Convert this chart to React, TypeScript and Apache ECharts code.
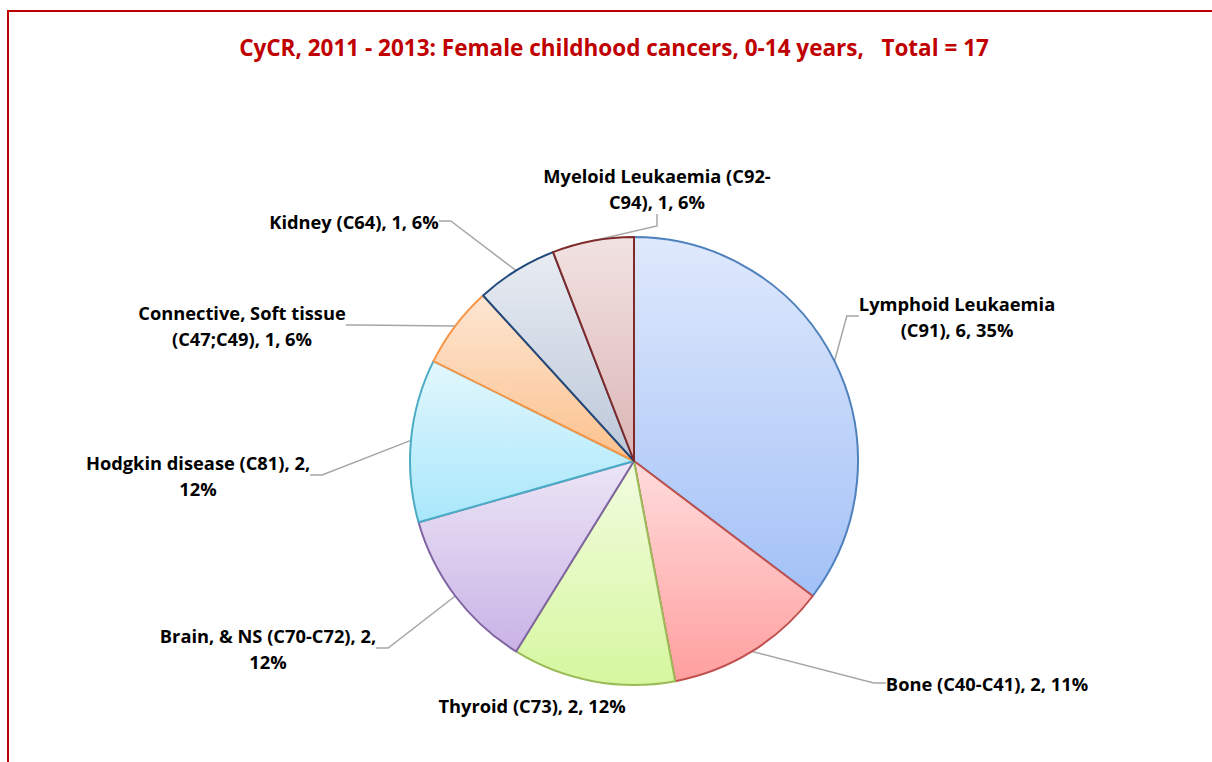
import { useEffect, useRef } from "react";
import * as echarts from "echarts";

const TITLE = "CyCR, 2011 - 2013: Female childhood cancers, 0-14 years,   Total = 17";
const categories = [
  "Lymphoid Leukaemia\n(C91)",
  "Bone (C40-C41)",
  "Thyroid (C73)",
  "Brain, & NS (C70-C72)",
  "Hodgkin disease (C81)",
  "Connective, Soft tissue\n(C47;C49)",
  "Kidney (C64)",
  "Myeloid Leukaemia (C92-\nC94)",
];
const counts = [6, 2, 2, 2, 2, 1, 1, 1];
const percents = ["35%", "11%", "12%", "12%", "12%", "6%", "6%", "6%"];
const breakBeforePct = [false, false, false, true, true, false, false, false];

// styling / layout (not data)
const topColors = ["#dfe9fc", "#ffdcdc", "#f2fce0", "#ece5f6", "#e2f7fd", "#fde6d3", "#e8ecf2", "#f1e2e2"];
const bottomColors = ["#a3c1f7", "#ff9f9f", "#d6f79f", "#c9b3e6", "#a9e7fb", "#fcc18d", "#bcc7d9", "#dcb5b5"];
const borderColors = ["#4f81bd", "#c0504d", "#9bbb59", "#8064a2", "#4bacc6", "#f79646", "#1f497d", "#7f2a2a"];
const labelCenters = [
  [957, 316],
  [987, 683],
  [532, 705],
  [268, 648],
  [198, 475],
  [242, 325],
  [354, 221],
  [657, 188],
];

export default function App() {
  const ref = useRef<HTMLDivElement>(null);
  useEffect(() => {
    if (!ref.current) return;
    const chart = echarts.init(ref.current, undefined, { renderer: "svg" });
    const data = categories.map((name, i) => ({
      name,
      value: counts[i],
      itemStyle: {
        color: new echarts.graphic.LinearGradient(0, 0, 0, 1, [
          { offset: 0, color: topColors[i] },
          { offset: 1, color: bottomColors[i] },
        ]),
        borderColor: borderColors[i],
        borderWidth: 2,
      },
      labelLine: { show: i !== 2 },
    }));
    chart.setOption({
      animation: false,
      graphic: [
        {
          type: "rect",
          shape: { x: 8, y: 11, width: 1400, height: 1000 },
          style: { fill: "none", stroke: "#c00000", lineWidth: 2 },
          z: 0,
        },
        {
          type: "text",
          x: 614,
          y: 47,
          style: {
            text: TITLE,
            fill: "#c00000",
            font: "bold 22.5px 'Open Sans'",
            textAlign: "center",
            textVerticalAlign: "middle",
          },
        },
      ],
      series: [
        {
          type: "pie",
          center: [634, 461],
          radius: 224,
          startAngle: 90,
          clockwise: true,
          avoidLabelOverlap: false,
          emphasis: { disabled: true },
          data,
          label: {
            show: true,
            position: "outside",
            fontFamily: "Open Sans",
            fontWeight: "bold",
            fontSize: 18.3,
            lineHeight: 26,
            color: "#000",
            align: "center",
            formatter: (p: any) => {
              const i = p.dataIndex;
              return `${categories[i]}, ${counts[i]},${breakBeforePct[i] ? "\n" : " "}${percents[i]}`;
            },
          },
          labelLine: {
            show: true,
            length: 10,
            length2: 12,
            lineStyle: { color: "#a6a6a6", width: 1.5 },
          },
          labelLayout: (params: any) => {
            const c = labelCenters[params.dataIndex];
            return { x: c[0], y: c[1], align: "center", verticalAlign: "middle" };
          },
        },
      ],
    });
    return () => chart.dispose();
  }, []);
  return (
    <div
      ref={ref}
      style={{ position: "fixed", left: 0, top: 0, width: 1212, height: 762, background: "#fff" }}
    />
  );
}
